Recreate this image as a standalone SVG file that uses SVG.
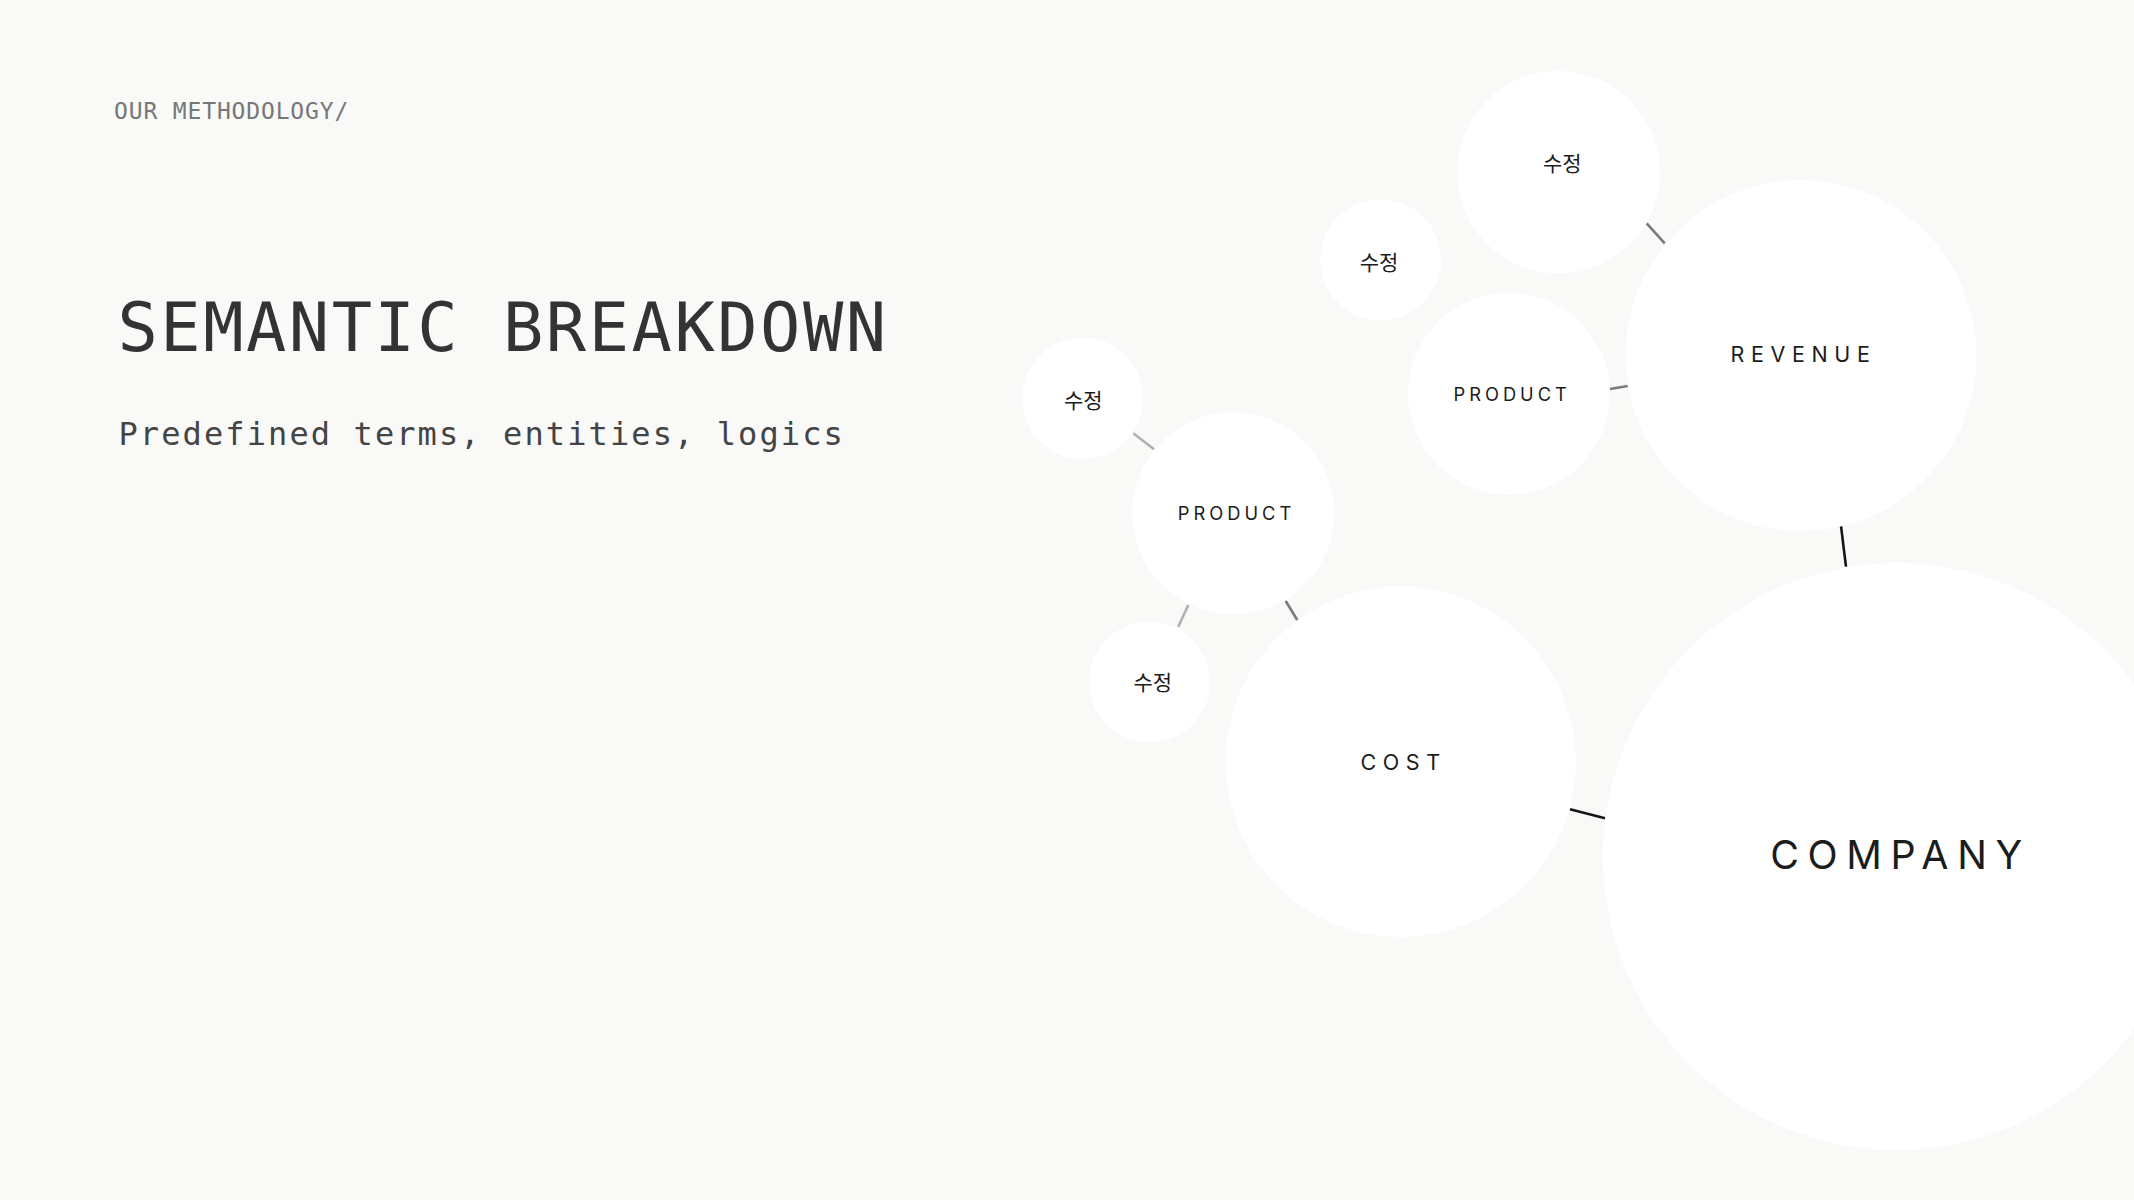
<svg xmlns="http://www.w3.org/2000/svg" width="2134" height="1200" viewBox="0 0 2134 1200">
<style>
.bg{fill:#f9f9f7}
.node{fill:#ffffff}
.mono{font-family:"DejaVu Sans Mono","Liberation Mono",monospace}
.lbl{font-family:Inter,"Noto Sans",sans-serif;fill:#1c1c1c;text-anchor:middle}
.kr{font-family:"Noto Sans CJK KR","Noto Sans",sans-serif;fill:#1c1c1c;text-anchor:middle;font-size:21px}
.sm{font-size:18.3px;letter-spacing:4.0px}
.md{font-size:21.5px;letter-spacing:6.6px}
.lg{font-size:39.4px;letter-spacing:8.6px}
.c-mid{stroke:#7a7a7a}
.c-light{stroke:#b0b0b0}
.c-dark{stroke:#151515}
line{stroke-width:2.6;stroke-linecap:butt}
</style>
<rect class="bg" x="0" y="0" width="2134" height="1200"/>
<g id="header">
<text class="mono" x="114" y="119.3" font-size="23" letter-spacing="0.85" fill="#777777">OUR METHODOLOGY/</text>
<text class="mono" x="117.5" y="351" font-size="67" letter-spacing="2.5" fill="#333333">SEMANTIC BREAKDOWN</text>
<text class="mono" x="118.5" y="445" font-size="32" letter-spacing="2.1" fill="#444444">Predefined terms, entities, logics</text>
</g>
<g id="connectors">
<line class="c-mid" x1="1646.7" y1="223.3" x2="1664.7" y2="243.3"/>
<line class="c-mid" x1="1610" y1="389" x2="1627.7" y2="386"/>
<line class="c-dark" x1="1841" y1="526" x2="1846" y2="566.7"/>
<line class="c-light" x1="1133.3" y1="433.3" x2="1154" y2="449.3"/>
<line class="c-light" x1="1188.3" y1="605" x2="1178.3" y2="626.7"/>
<line class="c-mid" x1="1285.7" y1="601" x2="1297.3" y2="620"/>
<line class="c-dark" x1="1570" y1="809.3" x2="1605" y2="818.3"/>
</g>
<g id="node-company">
<circle class="node" cx="1896.5" cy="856.5" r="293.5"/>
<text class="lbl lg" x="1900.5" y="869.3">COMPANY</text>
</g>
<g id="node-revenue">
<circle class="node" cx="1801" cy="355.5" r="175.5"/>
<text class="lbl md" x="1803.5" y="362.3">REVENUE</text>
</g>
<g id="node-cost">
<circle class="node" cx="1400.7" cy="761.8" r="175.2"/>
<text class="lbl md" x="1403.5" y="769.6">COST</text>
</g>
<g id="node-product-upper">
<circle class="node" cx="1509" cy="393.8" r="101"/>
<text class="lbl sm" x="1512.2" y="400.7">PRODUCT</text>
</g>
<g id="node-product-lower">
<circle class="node" cx="1233.2" cy="513.4" r="101"/>
<text class="lbl sm" x="1236.5" y="520">PRODUCT</text>
</g>
<g id="node-edit-top">
<circle class="node" cx="1558.5" cy="172.2" r="101.3"/>
<text class="kr" x="1562.3" y="171">수정</text>
</g>
<g id="node-edit-mid">
<circle class="node" cx="1380.8" cy="259.9" r="60.5"/>
<text class="kr" x="1379" y="270">수정</text>
</g>
<g id="node-edit-left">
<circle class="node" cx="1082.5" cy="398.4" r="60.7"/>
<text class="kr" x="1083.3" y="408">수정</text>
</g>
<g id="node-edit-bottom">
<circle class="node" cx="1149.7" cy="682" r="60.5"/>
<text class="kr" x="1152.7" y="690">수정</text>
</g>
</svg>
